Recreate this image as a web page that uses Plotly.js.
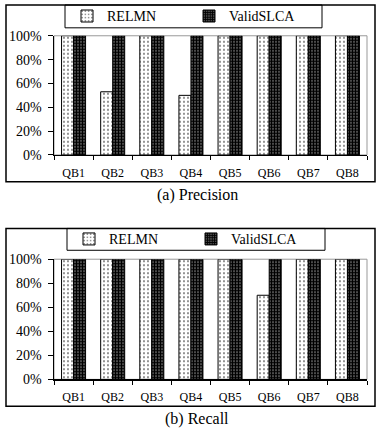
<!DOCTYPE html>
<html><head><meta charset="utf-8">
<script src="https://cdn.plot.ly/plotly-3.0.1.min.js"></script>
<style>html,body{margin:0;padding:0;background:#fff;}#chart{width:376px;height:432px;}</style>
</head><body><div id="chart"></div>
<script>
const categories = ['QB1','QB2','QB3','QB4','QB5','QB6','QB7','QB8'];
const precisionRELMN = [1, 0.53, 1, 0.50, 1, 1, 1, 1];
const precisionValidSLCA = [1, 1, 1, 1, 1, 1, 1, 1];
const recallRELMN = [1, 1, 1, 1, 1, 0.70, 1, 1];
const recallValidSLCA = [1, 1, 1, 1, 1, 1, 1, 1];
const seriesNames = ['RELMN', 'ValidSLCA'];
const yTickVals = [0, 0.2, 0.4, 0.6, 0.8, 1.0];
const yTickText = ['0%', '20%', '40%', '60%', '80%', '100%'];

const W = 376, H = 432;
const px = v => v / W;
const py = v => 1 - v / H;
const FONT = 'Liberation Serif';

const dotPattern = {shape: '.', fgcolor: '#000', bgcolor: '#fff', size: 4, solidity: 0.12};
const darkPattern = {shape: '+', fgcolor: '#000', bgcolor: '#fff', size: 3, solidity: 0.85};

function bar(name, y, xa, ya, pattern, legend) {
  return {
    type: 'bar', name: name, x: categories, y: y, xaxis: xa, yaxis: ya, legend: legend,
    marker: {color: '#fff', pattern: pattern, line: {color: '#000', width: 1}},
    hoverinfo: 'skip'
  };
}

const data = [
  bar(seriesNames[0], precisionRELMN, 'x', 'y', dotPattern, 'legend'),
  bar(seriesNames[1], precisionValidSLCA, 'x', 'y', darkPattern, 'legend'),
  bar(seriesNames[0], recallRELMN, 'x2', 'y2', dotPattern, 'legend2'),
  bar(seriesNames[1], recallValidSLCA, 'x2', 'y2', darkPattern, 'legend2')
];

const xDomain = [px(54), px(367)];
function xaxis(anchor) {
  return {
    domain: xDomain, anchor: anchor, showline: true, linecolor: '#000', linewidth: 1.5,
    ticks: 'outside', tickson: 'boundaries', ticklen: 4, tickcolor: '#000',
    tickfont: {family: FONT, size: 12, color: '#000'}, ticklabelstandoff: 6,
    showgrid: false, zeroline: false, fixedrange: true
  };
}
function yaxis(anchor, domain) {
  return {
    domain: domain, anchor: anchor, range: [0, 1], tickvals: yTickVals, ticktext: yTickText,
    showline: true, linecolor: '#000', linewidth: 1.5, ticks: 'outside', ticklen: 5, tickcolor: '#000',
    tickfont: {family: FONT, size: 14, color: '#000'}, ticklabelstandoff: 3,
    showgrid: false, zeroline: false, fixedrange: true
  };
}

function legendAt(x, y) {
  return {
    orientation: 'h', xanchor: 'left', yanchor: 'middle', x: x, y: y, bgcolor: 'rgba(0,0,0,0)',
    borderwidth: 0, font: {family: FONT, size: 14, color: '#000'}, entrywidth: 77,
    traceorder: 'normal', itemclick: false, itemdoubleclick: false
  };
}

const layout = {
  width: W, height: H, margin: {l: 0, r: 0, t: 0, b: 0},
  font: {family: FONT, size: 14, color: '#000'},
  paper_bgcolor: '#fff', plot_bgcolor: 'rgba(0,0,0,0)',
  barmode: 'group', bargap: 0.386, bargroupgap: 0,
  xaxis: xaxis('y'),
  yaxis: yaxis('x', [py(153), py(33)]),
  xaxis2: xaxis('y2'),
  yaxis2: yaxis('x2', [py(379), py(258)]),
  legend: legendAt(px(67), py(13.5)),
  legend2: legendAt(px(69), py(238)),
  shapes: [
    {type: 'rect', xref: 'paper', yref: 'paper', x0: px(6), x1: px(375), y0: py(180), y1: py(2), line: {color: '#000', width: 1.5}},
    {type: 'rect', xref: 'paper', yref: 'paper', x0: px(65), x1: px(322), y0: py(25), y1: py(2), line: {color: '#000', width: 1}},
    {type: 'rect', xref: 'x domain', yref: 'y domain', x0: 0, x1: 1, y0: 0, y1: 1, line: {color: '#999', width: 1}, layer: 'below'},
    {type: 'rect', xref: 'paper', yref: 'paper', x0: px(6), x1: px(375), y0: py(406), y1: py(227), line: {color: '#000', width: 1.5}},
    {type: 'rect', xref: 'paper', yref: 'paper', x0: px(67), x1: px(325), y0: py(249), y1: py(227), line: {color: '#000', width: 1}},
    {type: 'rect', xref: 'x2 domain', yref: 'y2 domain', x0: 0, x1: 1, y0: 0, y1: 1, line: {color: '#999', width: 1}, layer: 'below'}
  ],
  annotations: [
    {text: '(a) Precision', xref: 'paper', yref: 'paper', x: px(197), y: py(193), showarrow: false,
     font: {family: FONT, size: 16, color: '#000'}, xanchor: 'center', yanchor: 'middle'},
    {text: '(b) Recall', xref: 'paper', yref: 'paper', x: px(197), y: py(419), showarrow: false,
     font: {family: FONT, size: 16, color: '#000'}, xanchor: 'center', yanchor: 'middle'}
  ]
};

Plotly.newPlot('chart', data, layout, {displayModeBar: false, staticPlot: true});
</script>
</body></html>
